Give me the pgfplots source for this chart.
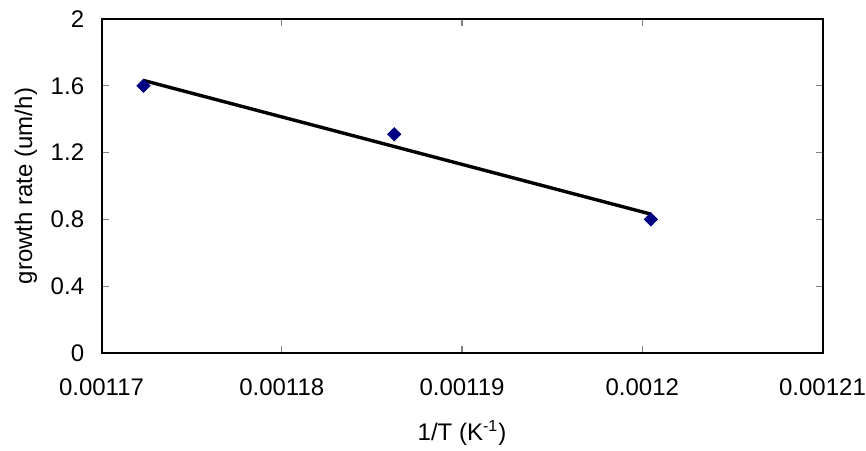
\documentclass[border=0pt]{standalone}
\usepackage{fontspec}
\setmainfont{Liberation Sans}
\usepackage{pgfplots}
\pgfplotsset{compat=1.18}
\definecolor{navy}{HTML}{000080}
\begin{document}
\fontsize{12}{14.5}\selectfont
\begin{tikzpicture}
\begin{axis}[
  at={(50.75pt,48.5pt)}, anchor=south west,
  scale only axis, width=360.5pt, height=167pt,
  xmin=0.00117, xmax=0.00121, ymin=0, ymax=2,
  xtick={0.00117,0.00118,0.00119,0.0012,0.00121},
  xticklabels={0.00117,0.00118,0.00119,0.0012,0.00121},
  ytick={0,0.4,0.8,1.2,1.6,2},
  yticklabels={0,0.4,0.8,1.2,1.6,2},
  scaled x ticks=false,
  tick align=inside, major tick length=3.5pt,
  tick style={gray, line width=0.6pt},
  axis line style={black, line width=1pt},
  xticklabel style={yshift=-8.5pt},
  yticklabel style={xshift=-4.5pt},
  xlabel={1/T (K\textsuperscript{-1})},
  ylabel={growth rate (um/h)},
  xlabel style={at={(axis description cs:0.5,-0.24)}, anchor=center},
  ylabel style={at={(axis description cs:-0.105,0.5)}, anchor=center, rotate=0},
  clip=false,
]
\addplot[black, line width=1.7pt] coordinates {(0.00117233,1.632) (0.00120048,0.8315)};
\addplot[only marks, mark=square*, mark size=2.3pt, mark options={rotate=45, fill=navy, draw=navy}]
  coordinates {(0.00117233,1.6) (0.00118624,1.31) (0.00120048,0.8)};
\end{axis}
\pgfresetboundingbox
\useasboundingbox (0,0) rectangle (433pt,225pt);
\end{tikzpicture}
\end{document}
